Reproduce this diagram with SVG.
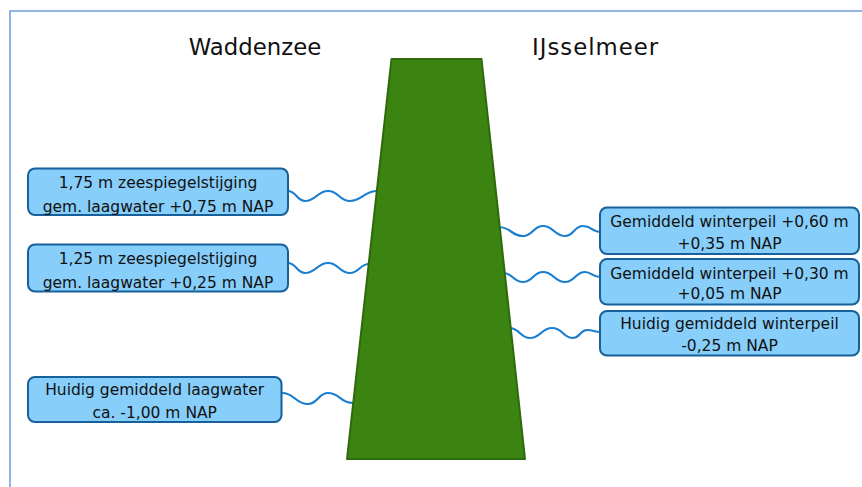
<svg xmlns="http://www.w3.org/2000/svg" width="862" height="487" viewBox="0 0 862 487">
<style>
.frame{fill:none;stroke:#6f9fd8;stroke-width:1.5}
.box{fill:#87cefa;stroke:#17609a;stroke-width:2}
.t{font-family:"DejaVu Sans","Verdana",sans-serif;font-size:15.5px;fill:#111;text-anchor:middle}
.title{font-family:"DejaVu Sans","Verdana",sans-serif;font-size:22.8px;fill:#111}
.wave{fill:none;stroke:#1a7fd0;stroke-width:2.2;stroke-linecap:round}
.dam{fill:#3b8411;stroke:#2e6a0c;stroke-width:2;stroke-linejoin:round}
</style>
<rect x="0" y="0" width="862" height="487" fill="#fff"/>
<rect class="frame" x="10" y="11" width="870" height="500"/>
<text class="title" x="255" y="55" text-anchor="middle">Waddenzee</text>
<text class="title" x="532" y="55" textLength="126" lengthAdjust="spacing">IJsselmeer</text>
<g id="connectors">
<path class="wave" d="M288,191 C296,191 297,201 305,201 C316,201 317,191 328,191 C339,191 339,201 350,201 C362,201 364,191 377,191"/>
<path class="wave" d="M288,263 C296,263 297,273 305,273 C316,273 317,263 328,263 C339,263 339,273 350,273 C359,273 360,264 369,264"/>
<path class="wave" d="M282,393 C295,393 295,404 308,404 C318,404 318,393 328,393 C340,393 340,403 353,403"/>
<path class="wave" d="M499,227 C511,227 511,236 523,236 C533,236 533,226 543,226 C554,226 554,236 565,236 C574,236 574,226 583,226 C592,226 592,232 600,232"/>
<path class="wave" d="M503,273 C513,273 513,282 523,282 C533,282 533,272 543,272 C554,272 554,282 565,282 C575,282 575,272 585,272 C592,272 592,277 600,277"/>
<path class="wave" d="M509,328 C520,328 520,338 530,338 C541,338 541,328 552,328 C563,328 563,338 573,338 C580,338 580,330 587,330 C594,330 594,332 600,332"/>
</g>
<g id="dam">
<polygon class="dam" points="391.5,59 481.5,59 525,459 347,459"/>
</g>
<g id="n-l1">
<rect class="box" x="28" y="168.5" width="260" height="46.5" rx="7"/>
<text class="t" x="158" y="187.5">1,75 m zeespiegelstijging</text>
<text class="t" x="158" y="211.5">gem. laagwater +0,75 m NAP</text>
</g>
<g id="n-l2">
<rect class="box" x="28" y="244.5" width="260" height="47" rx="7"/>
<text class="t" x="158" y="263.5">1,25 m zeespiegelstijging</text>
<text class="t" x="158" y="287.5">gem. laagwater +0,25 m NAP</text>
</g>
<g id="n-l3">
<rect class="box" x="28" y="377" width="253.5" height="45" rx="7"/>
<text class="t" x="154.7" y="395">Huidig gemiddeld laagwater</text>
<text class="t" x="154.7" y="417.5">ca. -1,00 m NAP</text>
</g>
<g id="n-r1">
<rect class="box" x="600" y="207.5" width="259" height="46.5" rx="7"/>
<text class="t" x="729.5" y="226.5">Gemiddeld winterpeil +0,60 m</text>
<text class="t" x="729.5" y="248.5">+0,35 m NAP</text>
</g>
<g id="n-r2">
<rect class="box" x="600" y="259" width="259" height="45.5" rx="7"/>
<text class="t" x="729.5" y="278.5">Gemiddeld winterpeil +0,30 m</text>
<text class="t" x="729.5" y="299">+0,05 m NAP</text>
</g>
<g id="n-r3">
<rect class="box" x="600" y="311" width="259" height="44.5" rx="7"/>
<text class="t" x="729.5" y="329">Huidig gemiddeld winterpeil</text>
<text class="t" x="729.5" y="351">-0,25 m NAP</text>
</g>
</svg>
